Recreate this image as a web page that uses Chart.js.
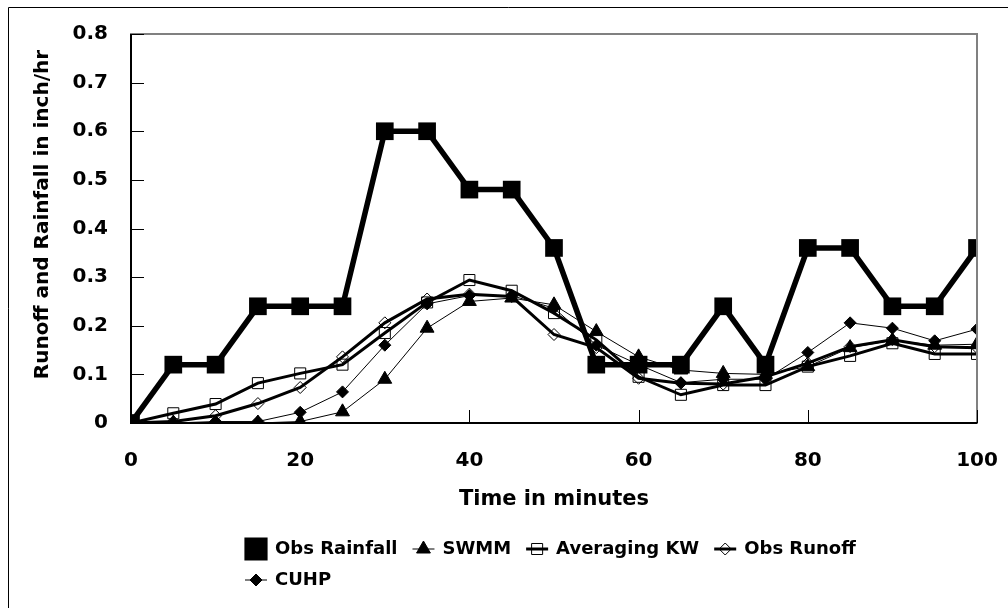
<!DOCTYPE html>
<html>
<head>
<meta charset="utf-8">
<script src="https://cdn.jsdelivr.net/npm/chart.js@4.4.1/dist/chart.umd.min.js"></script>
<style>
    html, body { margin: 0; padding: 0; background: #fff; }
    #wrap { position: relative; width: 1008px; height: 608px; }
</style>
</head>
<body>
<div id="wrap"><canvas id="chart" width="1008" height="608"></canvas></div>
<script>
// Time steps (minutes)
const time = [0, 5, 10, 15, 20, 25, 30, 35, 40, 45, 50, 55, 60, 65, 70, 75, 80, 85, 90, 95, 100];

// Series values (inch/hr)
const obsRainfall = [0, 0.12, 0.12, 0.24, 0.24, 0.24, 0.6, 0.6, 0.48, 0.48, 0.36, 0.12, 0.12, 0.12, 0.24, 0.12, 0.36, 0.36, 0.24, 0.24, 0.36];
const swmm = [0, 0, 0, 0, 0.003, 0.023, 0.09, 0.195, 0.25, 0.257, 0.243, 0.188, 0.136, 0.109, 0.102, 0.1, 0.116, 0.155, 0.17, 0.16, 0.162];
const averagingKW = [0, 0.02, 0.039, 0.082, 0.102, 0.12, 0.185, 0.248, 0.294, 0.272, 0.226, 0.171, 0.095, 0.058, 0.078, 0.078, 0.116, 0.138, 0.164, 0.142, 0.142];
const obsRunoff = [0, 0.003, 0.015, 0.04, 0.073, 0.136, 0.206, 0.255, 0.265, 0.26, 0.182, 0.155, 0.092, 0.082, 0.08, 0.095, 0.123, 0.157, 0.171, 0.157, 0.155];
const cuhp = [0, 0, 0.003, 0.003, 0.022, 0.064, 0.16, 0.245, 0.262, 0.262, 0.236, 0.16, 0.12, 0.083, 0.09, 0.09, 0.145, 0.206, 0.195, 0.169, 0.193];

// Tick labels
const xTickLabels = ['0', '20', '40', '60', '80', '100'];
const yTickLabels = ['0', '0.1', '0.2', '0.3', '0.4', '0.5', '0.6', '0.7', '0.8'];

Chart.defaults.font.family = '"DejaVu Sans"';
Chart.defaults.font.weight = 'bold';
Chart.defaults.color = '#000';

function toPoints(values) {
    return values.map((v, i) => ({ x: time[i], y: v }));
}

// Marker drawing for the legend (same geometry as Chart.js point styles)
function drawMarker(ctx, ds, x, y) {
    const r = ds.pointRadius;
    ctx.beginPath();
    if (ds.pointStyle === 'rect') {
        const s = Math.SQRT1_2 * r;
        ctx.rect(x - s, y - s, 2 * s, 2 * s);
    } else if (ds.pointStyle === 'triangle') {
        ctx.moveTo(x, y - r);
        ctx.lineTo(x + r * Math.sin(Math.PI * 2 / 3), y - r * Math.cos(Math.PI * 2 / 3));
        ctx.lineTo(x - r * Math.sin(Math.PI * 2 / 3), y - r * Math.cos(Math.PI * 2 / 3));
    } else {
        ctx.moveTo(x - r, y);
        ctx.lineTo(x, y - r);
        ctx.lineTo(x + r, y);
        ctx.lineTo(x, y + r);
    }
    ctx.closePath();
    if (ds.pointBackgroundColor !== 'transparent') {
        ctx.fillStyle = ds.pointBackgroundColor;
        ctx.fill();
    }
    ctx.lineWidth = ds.pointBorderWidth;
    ctx.strokeStyle = ds.pointBorderColor;
    ctx.stroke();
}

// Outer frame of the figure, plot box, axes and inward ticks
const framePlugin = {
    id: 'frame',
    beforeDraw(chart) {
        const ctx = chart.ctx;
        ctx.save();
        ctx.strokeStyle = '#000';
        ctx.lineWidth = 1;
        ctx.beginPath();
        ctx.moveTo(8.5, 620);
        ctx.lineTo(8.5, 7.5);
        ctx.lineTo(1020, 7.5);
        ctx.stroke();
        ctx.restore();
    },
    afterDatasetsDraw(chart) {
        const ctx = chart.ctx;
        const a = chart.chartArea;
        const xs = chart.scales.x, ys = chart.scales.y;
        ctx.save();
        // plot area box
        ctx.strokeStyle = '#808080';
        ctx.lineWidth = 2;
        ctx.strokeRect(a.left, a.top, a.right - a.left, a.bottom - a.top);
        // axes
        ctx.strokeStyle = '#000';
        ctx.beginPath();
        ctx.moveTo(a.left, a.top);
        ctx.lineTo(a.left, a.bottom);
        ctx.lineTo(a.right, a.bottom);
        ctx.stroke();
        // inward tick marks
        ctx.lineWidth = 1;
        ys.ticks.forEach(t => {
            const py = Math.round(ys.getPixelForValue(t.value)) + 0.5;
            ctx.beginPath();
            ctx.moveTo(a.left, py);
            ctx.lineTo(a.left + 13, py);
            ctx.stroke();
        });
        xs.ticks.forEach(t => {
            const px = Math.round(xs.getPixelForValue(t.value)) + 0.5;
            ctx.beginPath();
            ctx.moveTo(px, a.bottom);
            ctx.lineTo(px, a.bottom - 13);
            ctx.stroke();
        });
        ctx.restore();
    }
};

// Legend laid out like the spreadsheet legend (left aligned, wrapping)
const legendPlugin = {
    id: 'sheetLegend',
    afterDraw(chart) {
        const ctx = chart.ctx;
        const startX = 245;
        let x = startX, y = 549;
        ctx.save();
        ctx.font = 'bold 18px "DejaVu Sans"';
        ctx.textBaseline = 'middle';
        chart.data.datasets.forEach(ds => {
            const w = 30 + ctx.measureText(ds.label).width;
            if (x + w > 880) {
                x = startX;
                y += 31;
            }
            ctx.strokeStyle = '#000';
            ctx.lineWidth = ds.borderWidth;
            ctx.beginPath();
            ctx.moveTo(x, y);
            ctx.lineTo(x + 22, y);
            ctx.stroke();
            drawMarker(ctx, ds, x + 11, y);
            ctx.fillStyle = '#000';
            ctx.fillText(ds.label, x + 30, y);
            x += w + 15;
        });
        ctx.restore();
    }
};

const ctx = document.getElementById('chart').getContext('2d');

new Chart(ctx, {
    type: 'line',
    data: {
        datasets: [{
            label: 'Obs Rainfall',
            data: toPoints(obsRainfall),
            borderColor: '#000',
            borderWidth: 5.5,
            pointStyle: 'rect',
            pointRadius: 12.5,
            pointBackgroundColor: '#000',
            pointBorderColor: '#000',
            pointBorderWidth: 0,
            order: 4
        }, {
            label: 'SWMM',
            data: toPoints(swmm),
            borderColor: '#000',
            borderWidth: 1,
            pointStyle: 'triangle',
            pointRadius: 8,
            pointBackgroundColor: '#000',
            pointBorderColor: '#000',
            pointBorderWidth: 1,
            order: 3
        }, {
            label: 'Averaging KW',
            data: toPoints(averagingKW),
            borderColor: '#000',
            borderWidth: 3,
            pointStyle: 'rect',
            pointRadius: 7.8,
            pointBackgroundColor: 'transparent',
            pointBorderColor: '#000',
            pointBorderWidth: 1,
            order: 2
        }, {
            label: 'Obs Runoff',
            data: toPoints(obsRunoff),
            borderColor: '#000',
            borderWidth: 3,
            pointStyle: 'rectRot',
            pointRadius: 6,
            pointBackgroundColor: 'transparent',
            pointBorderColor: '#000',
            pointBorderWidth: 1,
            order: 1
        }, {
            label: 'CUHP',
            data: toPoints(cuhp),
            borderColor: '#000',
            borderWidth: 1,
            pointStyle: 'rectRot',
            pointRadius: 6,
            pointBackgroundColor: '#000',
            pointBorderColor: '#000',
            pointBorderWidth: 1,
            order: 0
        }]
    },
    options: {
        responsive: false,
        animation: false,
        clip: 0,
        layout: {
            padding: { left: 31, top: 34, right: 31, bottom: 95.4 }
        },
        plugins: {
            legend: { display: false },
            tooltip: { enabled: false }
        },
        elements: {
            line: { tension: 0 }
        },
        scales: {
            x: {
                type: 'linear',
                min: 0,
                max: 100,
                grid: { display: false, drawTicks: false },
                border: { display: false },
                ticks: {
                    stepSize: 20,
                    padding: 26,
                    maxRotation: 0,
                    font: { size: 20, weight: 'bold' },
                    callback: (value, index) => xTickLabels[index]
                },
                title: {
                    display: true,
                    text: 'Time in minutes',
                    padding: 0,
                    font: { size: 21, weight: 'bold' }
                },
                afterFit: function(scale) {
                    scale.height = 89.6;
                    scale.paddingLeft = 0;
                    scale.paddingRight = 0;
                }
            },
            y: {
                min: 0,
                max: 0.8,
                grid: { display: false, drawTicks: false },
                border: { display: false },
                ticks: {
                    stepSize: 0.1,
                    padding: 23,
                    font: { size: 20, weight: 'bold' },
                    callback: (value, index) => yTickLabels[index]
                },
                title: {
                    display: true,
                    text: '    Runoff and Rainfall in inch/hr',
                    padding: 0,
                    font: { size: 20, weight: 'bold' }
                },
                afterFit: function(scale) {
                    scale.width = 100;
                    scale.paddingTop = 0;
                    scale.paddingBottom = 0;
                }
            }
        }
    },
    plugins: [framePlugin, legendPlugin]
});
</script>
</body>
</html>
